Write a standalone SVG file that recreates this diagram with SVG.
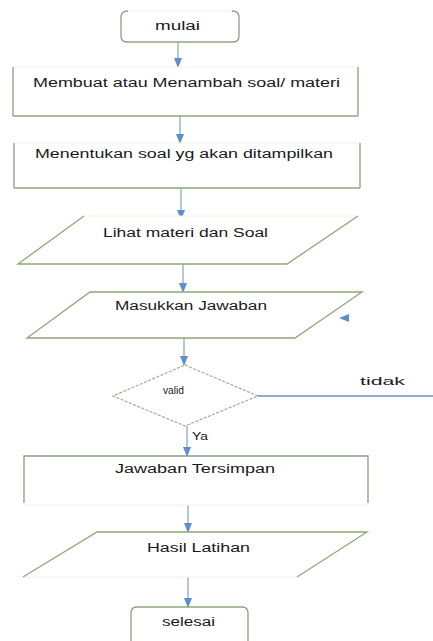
<svg xmlns="http://www.w3.org/2000/svg" width="433" height="641" viewBox="0 0 433 641">
<style>
.bg{fill:#ffffff}
.shape{fill:#ffffff;stroke:none}
.edge{fill:none;stroke:#8fa878;stroke-width:1.3}
.side{fill:none;stroke:#8f9a88;stroke-width:1.3}
.faint{fill:none;stroke:#eef2e6;stroke-width:1}
.dia{fill:#ffffff;stroke:#a8a898;stroke-width:1.2;stroke-dasharray:3 1.5}
.t{font-family:"Liberation Sans",Arial,sans-serif;font-size:12px;fill:#1a1a1a}
.s{font-size:10px}
.conn{fill:none;stroke:#8aa0bc;stroke-width:1.2}
.no{fill:none;stroke:#6f8cc0;stroke-width:1.4}
</style>
<defs>
<marker id="ah" markerWidth="10" markerHeight="8" refX="9" refY="4" orient="auto" markerUnits="userSpaceOnUse">
<path d="M0,0 L10,4 L0,8 Z" fill="#5b8fd0"/>
</marker>
</defs>
<rect class="bg" x="0" y="0" width="433" height="641"/>

<g id="connectors">
<line class="conn" x1="178" y1="42" x2="178" y2="67" marker-end="url(#ah)"/>
<line class="conn" x1="180" y1="116" x2="180" y2="143" marker-end="url(#ah)"/>
<line class="conn" x1="181" y1="188" x2="181" y2="219" marker-end="url(#ah)"/>
<line class="conn" x1="183" y1="264" x2="183" y2="292" marker-end="url(#ah)"/>
<line class="conn" x1="184" y1="338" x2="184" y2="365" marker-end="url(#ah)"/>
<line class="conn" x1="187" y1="426" x2="187" y2="456" marker-end="url(#ah)"/>
<line class="conn" x1="188" y1="505" x2="188" y2="532" marker-end="url(#ah)"/>
<line class="conn" x1="188" y1="575" x2="188" y2="607" marker-end="url(#ah)"/>
<line class="no" x1="258" y1="396" x2="433" y2="396"/>
<line class="no" x1="350" y1="318" x2="340" y2="318" stroke-opacity="0" marker-end="url(#ah)"/>
<text class="t s" x="360" y="385" textLength="45" lengthAdjust="spacingAndGlyphs">tidak</text>
<text class="t s" x="192" y="440" textLength="16" lengthAdjust="spacingAndGlyphs">Ya</text>
</g>

<g id="mulai">
<rect class="shape" x="121" y="11" width="118" height="31" rx="5"/>
<path class="faint" d="M126,11 H234"/>
<path class="side" d="M128,11 Q121,11 121,17 V36 Q121,42 127,42"/>
<path class="side" d="M232,11 Q239,11 239,17 V36 Q239,42 233,42"/>
<path class="edge" d="M127,42 H233"/>
<text class="t" x="155" y="30" textLength="45" lengthAdjust="spacingAndGlyphs">mulai</text>
</g>

<g id="membuat">
<rect class="shape" x="13" y="67" width="345" height="49"/>
<path class="faint" d="M13,67 H358"/>
<path class="side" d="M13,67 V116 M358,67 V116"/>
<path class="edge" d="M13,116 H358"/>
<text class="t" x="33" y="87" textLength="307" lengthAdjust="spacingAndGlyphs">Membuat atau Menambah soal/ materi</text>
</g>

<g id="menentukan">
<rect class="shape" x="14" y="143" width="346" height="45"/>
<path class="faint" d="M14,143 H360"/>
<path class="side" d="M14,143 V188 M360,143 V188"/>
<path class="edge" d="M14,188 H360"/>
<text class="t" x="35" y="158" textLength="298" lengthAdjust="spacingAndGlyphs">Menentukan soal yg akan ditampilkan</text>
</g>

<g id="lihat">
<polygon class="shape" points="84,216 358,216 287,264 18,264"/>
<path class="faint" d="M84,216 H358"/>
<path class="edge" d="M84,216 L18,264 H287 L358,216"/>
<text class="t" x="103" y="237" textLength="165" lengthAdjust="spacingAndGlyphs">Lihat materi dan Soal</text>
</g>

<g id="masukkan">
<polygon class="shape" points="90,292 362,292 295,338 27,338"/>
<path class="edge" d="M90,292 H362 L295,338 H27 Z"/>
<text class="t" x="115" y="310" textLength="152" lengthAdjust="spacingAndGlyphs">Masukkan Jawaban</text>
</g>

<g id="valid">
<polygon class="dia" points="185,365 258,396 185,426 113,396"/>
<text class="t s" x="163" y="394" textLength="21" lengthAdjust="spacingAndGlyphs">valid</text>
</g>

<g id="jawaban">
<rect class="shape" x="24" y="456" width="344" height="49"/>
<path class="faint" d="M24,505 H368"/>
<path class="side" d="M24,503 V456 H368 V503"/>
<text class="t" x="115" y="473" textLength="160" lengthAdjust="spacingAndGlyphs">Jawaban Tersimpan</text>
</g>

<g id="hasil">
<polygon class="shape" points="97,532 367,532 297,577 23,577"/>
<path class="faint" d="M23,577 H297"/>
<path class="edge" d="M23,577 L97,532 H367 L297,577"/>
<text class="t" x="147" y="552" textLength="103" lengthAdjust="spacingAndGlyphs">Hasil Latihan</text>
</g>

<g id="selesai">
<rect class="shape" x="131" y="607" width="117" height="40" rx="5"/>
<path class="side" d="M131,641 V613 Q131,607 137,607"/>
<path class="side" d="M248,641 V613 Q248,607 242,607"/>
<path class="edge" d="M137,607 H242"/>
<text class="t" x="162" y="626" textLength="53" lengthAdjust="spacingAndGlyphs">selesai</text>
</g>
</svg>
